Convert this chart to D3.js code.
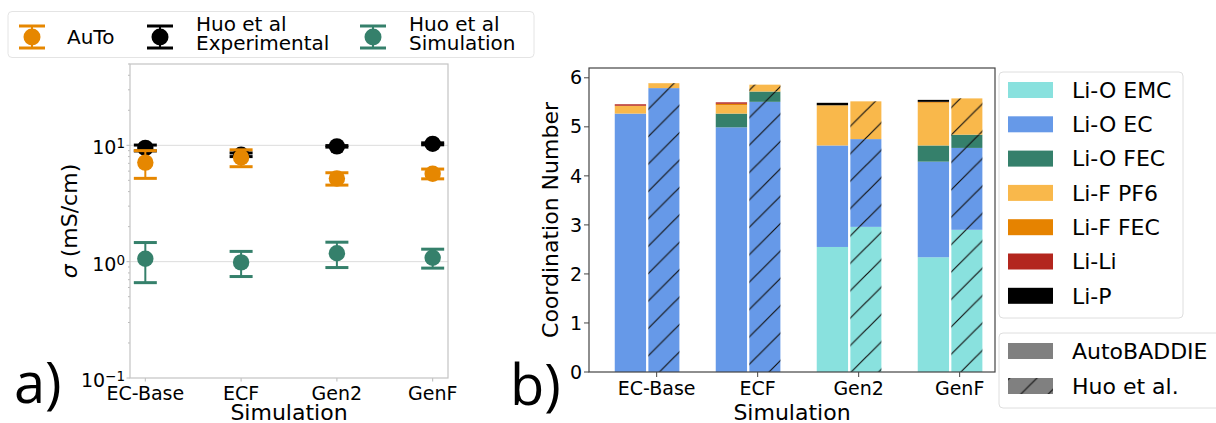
<!DOCTYPE html>
<html>
<head>
<meta charset="utf-8">
<script src="https://cdn.jsdelivr.net/npm/d3@7"></script>
<style>
  body { margin: 0; background: #fff; }
  svg { display: block; }
  text { font-family: "DejaVu Sans", sans-serif; fill: #000; }
</style>
</head>
<body>
<svg id="fig" width="1216" height="423"></svg>
<script>
// ---------- data ----------
const categories = ["EC-Base", "ECF", "Gen2", "GenF"];

// a) ionic conductivity (mS/cm) with symmetric error bars
const autoSigma = [7.1, 7.85, 5.18, 5.7];
const autoErr   = [1.9, 1.3, 0.63, 0.55];
const expSigma  = [9.5, 8.3, 9.8, 10.3];
const expErr    = [0.55, 0.3, 0.15, 0.2];
const simSigma  = [1.06, 0.985, 1.18, 1.08];
const simErr    = [0.4, 0.24, 0.29, 0.2];
const sigmaTicks = [0.1, 1, 10];

// b) Li+ coordination numbers by contact type
const contacts = ["Li-O EMC", "Li-O EC", "Li-O FEC", "Li-F PF6", "Li-F FEC", "Li-Li", "Li-P"];
const autoLiOEMC = [0, 0, 2.55, 2.34];
const autoLiOEC  = [5.27, 4.99, 2.07, 1.95];
const autoLiOFEC = [0, 0.28, 0, 0.33];
const autoLiFPF6 = [0.16, 0.17, 0.82, 0.87];
const autoLiFFEC = [0, 0.03, 0, 0.02];
const autoLiLi   = [0.03, 0.03, 0, 0];
const autoLiP    = [0, 0, 0.05, 0.04];

const huoLiOEMC = [0, 0, 2.96, 2.90];
const huoLiOEC  = [5.79, 5.51, 1.79, 1.67];
const huoLiOFEC = [0, 0.21, 0, 0.27];
const huoLiFPF6 = [0.10, 0.14, 0.77, 0.74];
const huoLiFFEC = [0, 0, 0, 0];
const huoLiLi   = [0, 0, 0, 0];
const huoLiP    = [0, 0, 0, 0];

const cnTicks = [0, 1, 2, 3, 4, 5, 6];

// ---------- styling ----------
const cOrange = "#E68700", cBlack = "#000000", cGreen = "#35806B";
const contactColors = ["#89E1DE", "#6699E8", "#35806B", "#F9B84B", "#E68300", "#B3261E", "#000000"];

const svg = d3.select("#fig");
const defs = svg.append("defs");

// diagonal hatch, anchored in page space so it runs continuously across stacked segments
const hp = 27.4;
const hatch = defs.append("pattern")
  .attr("id", "hatch")
  .attr("patternUnits", "userSpaceOnUse")
  .attr("x", 17.6).attr("y", 0)
  .attr("width", hp).attr("height", hp);
hatch.append("path")
  .attr("d", `M0,${hp} L${hp},0 M-2,2 L2,-2 M${hp - 2},${hp + 2} L${hp + 2},${hp - 2}`)
  .attr("stroke", "#111").attr("stroke-width", 1.2).attr("fill", "none");

// =====================================================
// Panel a: conductivity, log scale
// =====================================================
const aL = 130, aR = 448, aT = 64, aB = 378;
const xA = d3.scaleLinear().domain([-0.16, 3.16]).range([aL, aR]);
const yA = d3.scaleLog().domain([0.1, 50]).range([aB, aT]);

const gA = svg.append("g");

// grid on decades
gA.selectAll("line.grid").data(sigmaTicks.filter(t => t > 0.1))
  .enter().append("line")
  .attr("x1", aL).attr("x2", aR)
  .attr("y1", d => yA(d)).attr("y2", d => yA(d))
  .attr("stroke", "#dcdcdc").attr("stroke-width", 1);

// minor ticks
const minor = [];
[0.1, 1, 10].forEach(base => { for (let k = 2; k <= 9; k++) { const v = base * k; if (v <= 50) minor.push(v); } });
gA.selectAll("line.minor").data(minor).enter().append("line")
  .attr("x1", aL - 2).attr("x2", aL)
  .attr("y1", d => yA(d)).attr("y2", d => yA(d))
  .attr("stroke", "#aaa").attr("stroke-width", 0.8);

// major ticks
gA.selectAll("line.major").data(sigmaTicks).enter().append("line")
  .attr("x1", aL - 3.5).attr("x2", aL)
  .attr("y1", d => yA(d)).attr("y2", d => yA(d))
  .attr("stroke", "#aaa").attr("stroke-width", 0.8);

// x ticks
gA.selectAll("line.xt").data(categories).enter().append("line")
  .attr("x1", (d, i) => xA(i)).attr("x2", (d, i) => xA(i))
  .attr("y1", aB).attr("y2", aB + 3.5)
  .attr("stroke", "#aaa").attr("stroke-width", 0.8);

// frame
gA.append("rect").attr("x", aL).attr("y", aT).attr("width", aR - aL).attr("height", aB - aT)
  .attr("fill", "none").attr("stroke", "#c4c4c4").attr("stroke-width", 1.2);

// y tick labels as 10^k
sigmaTicks.forEach(t => {
  const k = Math.round(Math.log10(t));
  const txt = gA.append("text")
    .attr("x", aL - 5).attr("y", yA(t) + 9)
    .attr("text-anchor", "end").attr("font-size", 19);
  txt.append("tspan").text("10");
  txt.append("tspan").attr("font-size", 13.5).attr("dy", -6)
    .text(k < 0 ? "\u2212" + Math.abs(k) : String(k));
});

// x tick labels
gA.selectAll("text.xl").data(categories).enter().append("text")
  .attr("x", (d, i) => xA(i)).attr("y", aB + 22)
  .attr("text-anchor", "middle").attr("font-size", 19)
  .text(d => d);

// axis labels
gA.append("text").attr("x", (aL + aR) / 2).attr("y", 420)
  .attr("text-anchor", "middle").attr("font-size", 22).text("Simulation");
const yl = gA.append("text")
  .attr("transform", `translate(77,${(aT + aB) / 2}) rotate(-90)`)
  .attr("text-anchor", "middle").attr("font-size", 22);
yl.append("tspan").attr("font-style", "italic").text("\u03C3");
yl.append("tspan").text(" (mS/cm)");

// error-bar series
function drawSeries(g, vals, errs, color) {
  const capW = 11.5;
  vals.forEach((v, i) => {
    const x = xA(i);
    const lo = yA(v - errs[i]), hi = yA(v + errs[i]);
    g.append("line").attr("x1", x).attr("x2", x).attr("y1", lo).attr("y2", hi)
      .attr("stroke", color).attr("stroke-width", 2);
    [lo, hi].forEach(yy => g.append("line")
      .attr("x1", x - capW).attr("x2", x + capW).attr("y1", yy).attr("y2", yy)
      .attr("stroke", color).attr("stroke-width", 3));
    g.append("circle").attr("cx", x).attr("cy", yA(v)).attr("r", 8.2).attr("fill", color);
  });
}
drawSeries(gA, expSigma, expErr, cBlack);
drawSeries(gA, autoSigma, autoErr, cOrange);
drawSeries(gA, simSigma, simErr, cGreen);

// legend for panel a
const legA = svg.append("g");
legA.append("rect").attr("x", 8).attr("y", 11.5).attr("width", 526).attr("height", 46)
  .attr("rx", 4).attr("fill", "#fff").attr("stroke", "#e4e4e4").attr("stroke-width", 1);
const legAItems = [
  { color: cOrange, x: 32, lines: ["AuTo"] },
  { color: cBlack, x: 160, lines: ["Huo et al", "Experimental"] },
  { color: cGreen, x: 373, lines: ["Huo et al", "Simulation"] }
];
legAItems.forEach(it => {
  const cy = 37;
  legA.append("line").attr("x1", it.x).attr("x2", it.x).attr("y1", cy - 11).attr("y2", cy + 11)
    .attr("stroke", it.color).attr("stroke-width", 2);
  [cy - 11, cy + 11].forEach(yy => legA.append("line")
    .attr("x1", it.x - 13).attr("x2", it.x + 13).attr("y1", yy).attr("y2", yy)
    .attr("stroke", it.color).attr("stroke-width", 3));
  legA.append("circle").attr("cx", it.x).attr("cy", cy).attr("r", 8.5).attr("fill", it.color);
  if (it.lines.length === 1) {
    legA.append("text").attr("x", it.x + 35).attr("y", 44).attr("font-size", 20).text(it.lines[0]);
  } else {
    const t = legA.append("text").attr("x", it.x + 36).attr("y", 31).attr("font-size", 20);
    it.lines.forEach((l, j) => t.append("tspan").attr("x", it.x + 36).attr("dy", j === 0 ? 0 : 19).text(l));
  }
});

// =====================================================
// Panel b: stacked coordination numbers
// =====================================================
const bL = 589, bR = 995, bT = 68, bB = 372;
const xB = d3.scaleLinear().domain([-0.67, 3.35]).range([bL, bR]);
const yB = d3.scaleLinear().domain([0, 6.2]).range([bB, bT]);

const autoCols = [autoLiOEMC, autoLiOEC, autoLiOFEC, autoLiFPF6, autoLiFFEC, autoLiLi, autoLiP];
const huoCols  = [huoLiOEMC, huoLiOEC, huoLiOFEC, huoLiFPF6, huoLiFFEC, huoLiLi, huoLiP];
function rows(cols) {
  return categories.map((c, i) => {
    const r = { cat: c, idx: i };
    contacts.forEach((k, j) => r[k] = cols[j][i]);
    return r;
  });
}
const stack = d3.stack().keys(contacts);
const autoStack = stack(rows(autoCols));
const huoStack = stack(rows(huoCols));

const sources = [
  { layers: autoStack, x0: -0.415, x1: -0.105, hatched: false },
  { layers: huoStack,  x0: -0.082, x1: 0.225,  hatched: true }
];
const gB = svg.append("g");
sources.forEach(src => {
  src.layers.forEach((layer, li) => {
    layer.forEach(seg => {
      const h = yB(seg[0]) - yB(seg[1]);
      if (h <= 0) return;
      const i = seg.data.idx;
      const rx = xB(i + src.x0), rw = xB(i + src.x1) - xB(i + src.x0);
      gB.append("rect").attr("x", rx).attr("y", yB(seg[1])).attr("width", rw).attr("height", h)
        .attr("fill", contactColors[li]);
      if (src.hatched) {
        gB.append("rect").attr("x", rx).attr("y", yB(seg[1])).attr("width", rw).attr("height", h)
          .attr("fill", "url(#hatch)");
      }
    });
  });
});

// frame and ticks
gB.append("rect").attr("x", bL).attr("y", bT).attr("width", bR - bL).attr("height", bB - bT)
  .attr("fill", "none").attr("stroke", "#444").attr("stroke-width", 1.2);
gB.selectAll("line.yt").data(cnTicks).enter().append("line")
  .attr("x1", bL - 5).attr("x2", bL).attr("y1", d => yB(d)).attr("y2", d => yB(d))
  .attr("stroke", "#444").attr("stroke-width", 1);
gB.selectAll("text.yt").data(cnTicks).enter().append("text")
  .attr("x", bL - 7).attr("y", d => yB(d)).attr("dy", "0.35em")
  .attr("text-anchor", "end").attr("font-size", 19).text(d => d);
gB.selectAll("line.xt").data(categories).enter().append("line")
  .attr("x1", (d, i) => xB(i)).attr("x2", (d, i) => xB(i)).attr("y1", bB).attr("y2", bB + 5)
  .attr("stroke", "#444").attr("stroke-width", 1);
gB.selectAll("text.xl").data(categories).enter().append("text")
  .attr("x", (d, i) => xB(i)).attr("y", bB + 23)
  .attr("text-anchor", "middle").attr("font-size", 19).text(d => d);
gB.append("text").attr("x", (bL + bR) / 2).attr("y", 420)
  .attr("text-anchor", "middle").attr("font-size", 22).text("Simulation");
gB.append("text").attr("transform", `translate(558,${(bT + bB) / 2}) rotate(-90)`)
  .attr("text-anchor", "middle").attr("font-size", 22).text("Coordination Number");

// legends for panel b
const legB = svg.append("g");
legB.append("rect").attr("x", 999).attr("y", 72).attr("width", 184).attr("height", 246)
  .attr("rx", 4).attr("fill", "#fff").attr("stroke", "#dedede");
contacts.forEach((c, i) => {
  const cy = 90 + i * 34.3;
  legB.append("rect").attr("x", 1008).attr("y", cy - 8).attr("width", 45).attr("height", 16)
    .attr("fill", contactColors[i]);
  legB.append("text").attr("x", 1072).attr("y", cy).attr("dy", "0.35em")
    .attr("font-size", 22).text(c);
});
legB.append("rect").attr("x", 999).attr("y", 333).attr("width", 240).attr("height", 75)
  .attr("rx", 4).attr("fill", "#fff").attr("stroke", "#dedede");
[{ label: "AutoBADDIE", hatched: false }, { label: "Huo et al.", hatched: true }].forEach((s, i) => {
  const cy = 351 + i * 35;
  legB.append("rect").attr("x", 1008).attr("y", cy - 8).attr("width", 45).attr("height", 16)
    .attr("fill", "#808080");
  if (s.hatched) legB.append("rect").attr("x", 1008).attr("y", cy - 8).attr("width", 45).attr("height", 16)
    .attr("fill", "url(#hatch)");
  legB.append("text").attr("x", 1072).attr("y", cy).attr("dy", "0.35em")
    .attr("font-size", 22).text(s.label);
});

// panel letters
svg.append("text").attr("x", 14).attr("y", 403)
  .style("font-family", "'Open Sans', sans-serif").attr("font-size", 56).text("a)");
svg.append("text").attr("x", 510).attr("y", 405)
  .style("font-family", "'Open Sans', sans-serif").attr("font-size", 56).text("b)");
</script>
</body>
</html>
